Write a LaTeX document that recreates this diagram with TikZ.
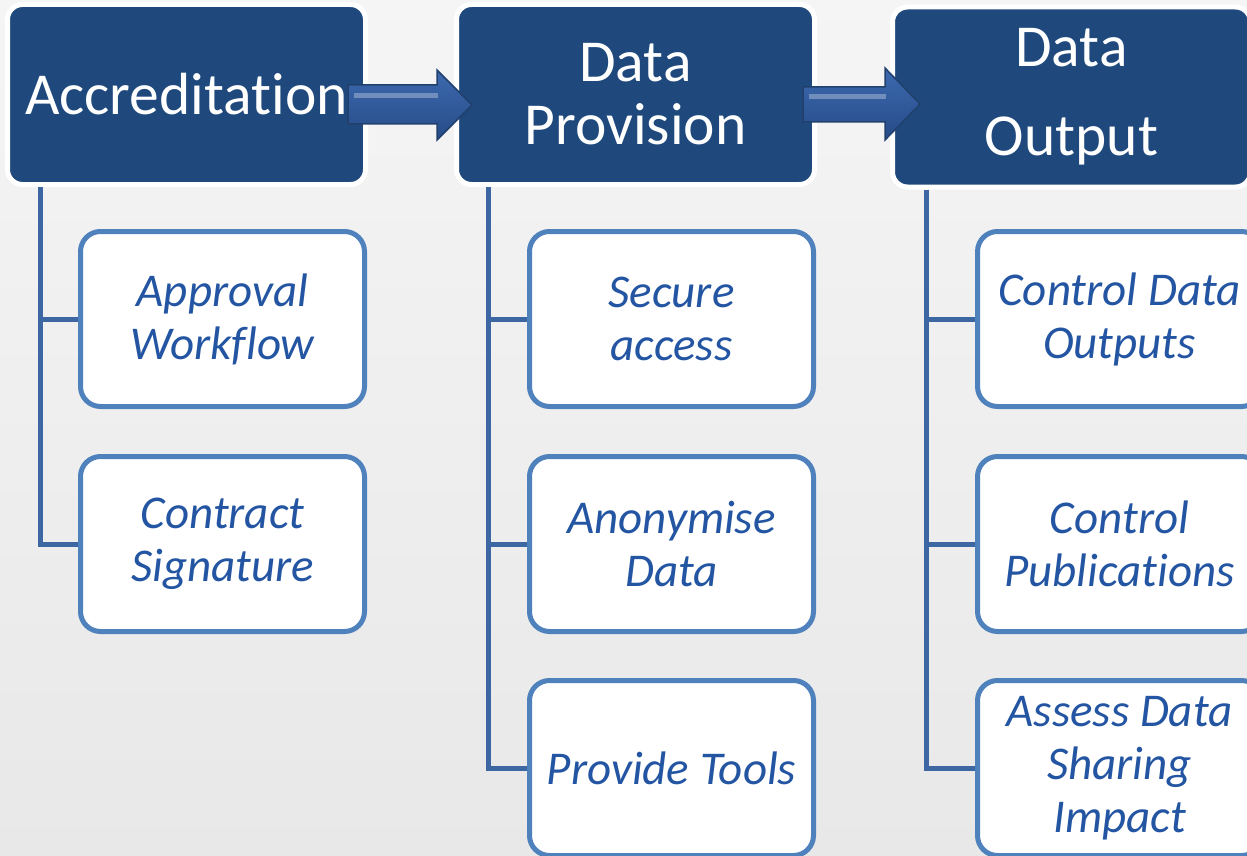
\documentclass[tikz,border=0pt]{standalone}
\usepackage{fontspec}
\setmainfont{Carlito}[Ligatures=NoCommon]
\usetikzlibrary{positioning}
\definecolor{stepblue}{RGB}{31,73,125}
\definecolor{taskedge}{RGB}{79,129,189}
\definecolor{tasktext}{RGB}{35,85,162}
\definecolor{trunkblue}{RGB}{61,103,163}
\definecolor{arrowtop}{RGB}{60,105,175}
\definecolor{arrowmid}{RGB}{92,142,218}
\definecolor{arrowbot}{RGB}{38,76,135}
\definecolor{arrowedge}{RGB}{34,64,110}
\tikzset{
  stage/.style={draw=white, line width=5pt, rounded corners=15pt, fill=stepblue, text=white, align=center, minimum width=358pt, minimum height=180pt, inner sep=0pt},
  task/.style={draw=taskedge, line width=5pt, rounded corners=20pt, fill=white, text=tasktext, align=center, minimum width=284pt, minimum height=175pt, inner sep=0pt, font=\fontsize{47}{53}\selectfont\itshape},
  trunk/.style={draw=trunkblue, line width=5pt},
  flow/.style={draw=arrowedge, line width=1.5pt, line join=miter, top color=arrowtop, middle color=arrowmid, bottom color=arrowbot},
  shine/.style={fill=white, opacity=0.3},
}

\begin{document}
\begin{tikzpicture}[x=1pt, y=-1pt]
  \useasboundingbox[top color=white!96!black, bottom color=white!91!black] (0,0) rectangle (1247,856);

  \node[stage, font=\fontsize{59.5}{63}\selectfont] (acc) at (186.5,94.5) {Accreditation};
  \node[stage, font=\fontsize{59.5}{63}\selectfont] (prov) at (635.5,94.5) {Data\\Provision};
  \node[stage, font=\fontsize{59.5}{89}\selectfont] (out) at (1071.5,97) {Data\\Output};

  \node[task] (appr) at (222.5,319) {Approval\\Workflow};
  \node[task] (contr) at (222.5,544) {Contract\\Signature};

  \node[task] (secure) at (671.5,319) {Secure\\access};
  \node[task] (anon) at (671.5,544) {Anonymise\\Data};
  \node[task] (tools) at (671.5,768) {Provide Tools};

  \node[task] (ctrlout) at (1119.5,319) {Control Data\\Outputs};
  \node[task] (ctrlpub) at (1119.5,544) {Control\\Publications};
  \node[task] (assess) at (1119.5,768) {Assess Data\\Sharing\\Impact};

  \draw[trunk] ([xshift=35.5pt]acc.south west) |- (appr.west);
  \draw[trunk] ([xshift=35.5pt]acc.south west) |- (contr.west);
  \draw[trunk] ([xshift=34.5pt]prov.south west) |- (secure.west);
  \draw[trunk] ([xshift=34.5pt]prov.south west) |- (anon.west);
  \draw[trunk] ([xshift=34.5pt]prov.south west) |- (tools.west);
  \draw[trunk] ([xshift=36.5pt]out.south west) |- (ctrlout.west);
  \draw[trunk] ([xshift=36.5pt]out.south west) |- (ctrlpub.west);
  \draw[trunk] ([xshift=36.5pt]out.south west) |- (assess.west);

  \coordinate (tip1) at (472,105);
  \coordinate (tip2) at (920,104);
  \filldraw[flow] (tip1) -- ++(-35,-35) -- ++(0,15) -- ++(-89,0) -- ++(0,39) -- ++(89,0) -- ++(0,16) -- cycle;
  \fill[shine] ([xshift=-118pt, yshift=12pt]tip1) -- ++(84,0) -- ++(0,5) -- ++(-84,0) -- cycle;
  \filldraw[flow] (tip2) -- ++(-35,-36) -- ++(0,19) -- ++(-82,0) -- ++(0,35) -- ++(82,0) -- ++(0,18) -- cycle;
  \fill[shine] ([xshift=-111pt, yshift=10pt]tip2) -- ++(77,0) -- ++(0,5) -- ++(-77,0) -- cycle;
\end{tikzpicture}
\end{document}
